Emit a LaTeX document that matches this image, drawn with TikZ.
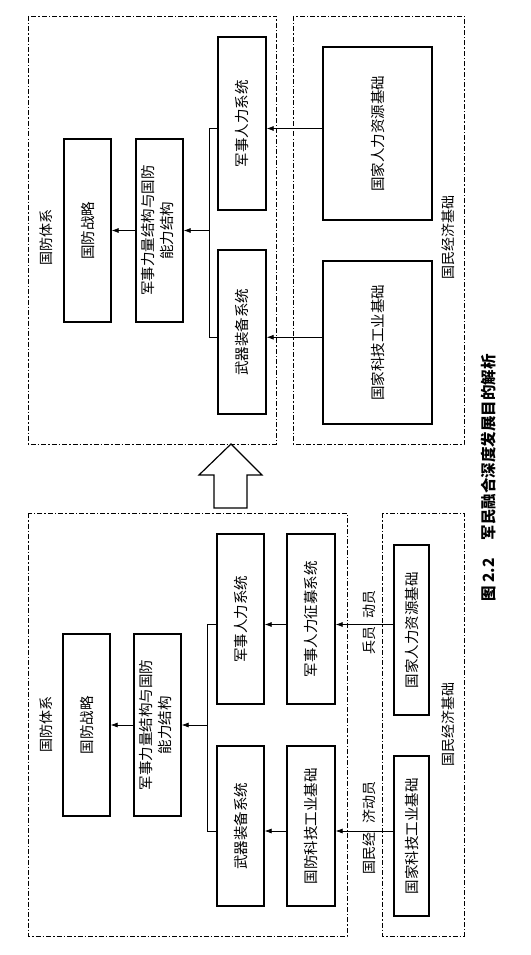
\documentclass[tikz,border=0pt]{standalone}
\usepackage{fontspec}
\setmainfont{Noto Sans CJK SC}
\usetikzlibrary{arrows.meta,calc}
\newcommand{\rtext}[1]{\rotatebox{90}{#1}}
\newcommand{\rtwo}[2]{\rotatebox{90}{\begin{tabular}{@{}c@{}}#1\\[1pt]#2\end{tabular}}}
\begin{document}
\begin{tikzpicture}[x=1pt,y=-1pt,
  box/.style={draw, line width=1.3pt, inner sep=0pt, font=\fontsize{14.5}{17}\selectfont},
  grp/.style={draw, line width=0.7pt, dash pattern=on 5pt off 2pt on 1.5pt off 2pt},
  arr/.style={-{Latex[length=7pt,width=5pt]}, line width=0.7pt},
  ln/.style={line width=0.7pt},
  lbl/.style={inner sep=0pt, rotate=90, font=\fontsize{14}{17}\selectfont},
  capt/.style={inner sep=0pt, rotate=90, font=\bfseries\fontsize{15.5}{18}\selectfont}]
\useasboundingbox (0,0) rectangle (530,955);

% ---------- top panel ----------
\draw[grp] (28,16) rectangle (276,444);
\draw[grp] (293,16) rectangle (464,444);
\node[lbl] (LA1) at (46,237) {国防体系};
\node[lbl] (LA2) at (448,237) {国民经济基础};

\node[box, minimum width=47pt, minimum height=183pt] (A1) at (87.5,230.5) {\rtext{国防战略}};
\node[box, minimum width=47pt, minimum height=183pt] (A2) at (159.5,230.5) {\rtwo{军事力量结构与国防}{能力结构}};
\node[box, minimum width=48pt, minimum height=173pt] (A3) at (242,123.5) {\rtext{军事人力系统}};
\node[box, minimum width=48pt, minimum height=164pt] (A4) at (242,332) {\rtext{武器装备系统}};
\node[box, minimum width=109pt, minimum height=173pt] (A5) at (377.5,133.5) {\rtext{国家人力资源基础}};
\node[box, minimum width=109pt, minimum height=163pt] (A6) at (377.5,342.5) {\rtext{国家科技工业基础}};

\coordinate (m1) at ($(A3.east)!0.5!(A5.west)$);
\coordinate (m2) at ($(A4.east)!0.5!(A6.west)$);
\coordinate (jA) at (209,230.5);
\draw[arr] (m1 -| A5.west) -- (m1 -| A3.east);
\draw[arr] (m2 -| A6.west) -- (m2 -| A4.east);
\draw[ln] (m1 -| A3.west) -- (m1 -| jA) -- (m2 -| jA) -- (m2 -| A4.west);
\draw[arr] (jA) -- (A2.east);
\draw[arr] (A2.west) -- (A1.east);

% ---------- hollow arrow ----------
\draw[line width=1.2pt, line join=miter]
  (231,444) -- (262,475) -- (247,475) -- (247,508) -- (214,508) -- (214,475) -- (199,475) -- cycle;

% ---------- bottom panel ----------
\draw[grp] (28,513) rectangle (347,936);
\draw[grp] (382,513) rectangle (464,936);
\node[lbl] (LB1) at (46,724) {国防体系};
\node[lbl] (LB2) at (448,724) {国民经济基础};

\node[box, minimum width=47pt, minimum height=182pt] (B1) at (86.5,725) {\rtext{国防战略}};
\node[box, minimum width=47pt, minimum height=182pt] (B2) at (157.5,725) {\rtwo{军事力量结构与国防}{能力结构}};
\node[box, minimum width=47pt, minimum height=170pt] (B3) at (240.5,619) {\rtext{军事人力系统}};
\node[box, minimum width=48pt, minimum height=170pt] (B4) at (311,619) {\rtext{军事人力征募系统}};
\node[box, minimum width=47pt, minimum height=160pt] (B5) at (240.5,826) {\rtext{武器装备系统}};
\node[box, minimum width=48pt, minimum height=160pt] (B6) at (311,826) {\rtext{国防科技工业基础}};
\node[box, minimum width=35pt, minimum height=170pt] (B7) at (411.5,630) {\rtext{国家人力资源基础}};
\node[box, minimum width=35pt, minimum height=160pt] (B8) at (411.5,836) {\rtext{国家科技工业基础}};

\coordinate (n1) at ($(B4.east)!0.5!(B7.west)$);
\coordinate (n2) at ($(B6.east)!0.5!(B8.west)$);
\coordinate (jB) at (207,725);
\draw[arr] (n1 -| B7.west) -- (n1 -| B4.east);
\draw[arr] (n1 -| B4.west) -- (n1 -| B3.east);
\draw[arr] (n2 -| B8.west) -- (n2 -| B6.east);
\draw[arr] (n2 -| B6.west) -- (n2 -| B5.east);
\draw[ln] (n1 -| B3.west) -- (n1 -| jB) -- (n2 -| jB) -- (n2 -| B5.west);
\draw[arr] (jB) -- (B2.east);
\draw[arr] (B2.west) -- (B1.east);

\node[lbl] (t1) at (369,640) {兵员};
\node[lbl] (t2) at (369,604) {动员};
\node[lbl] (t3) at (369,853) {国民经};
\node[lbl] (t4) at (369,802) {济动员};

% ---------- caption ----------
\node[capt] (cap1) at (489,580) {图 2.2};
\node[capt] (cap2) at (489,447) {军民融合深度发展目的解析};
\end{tikzpicture}
\end{document}
